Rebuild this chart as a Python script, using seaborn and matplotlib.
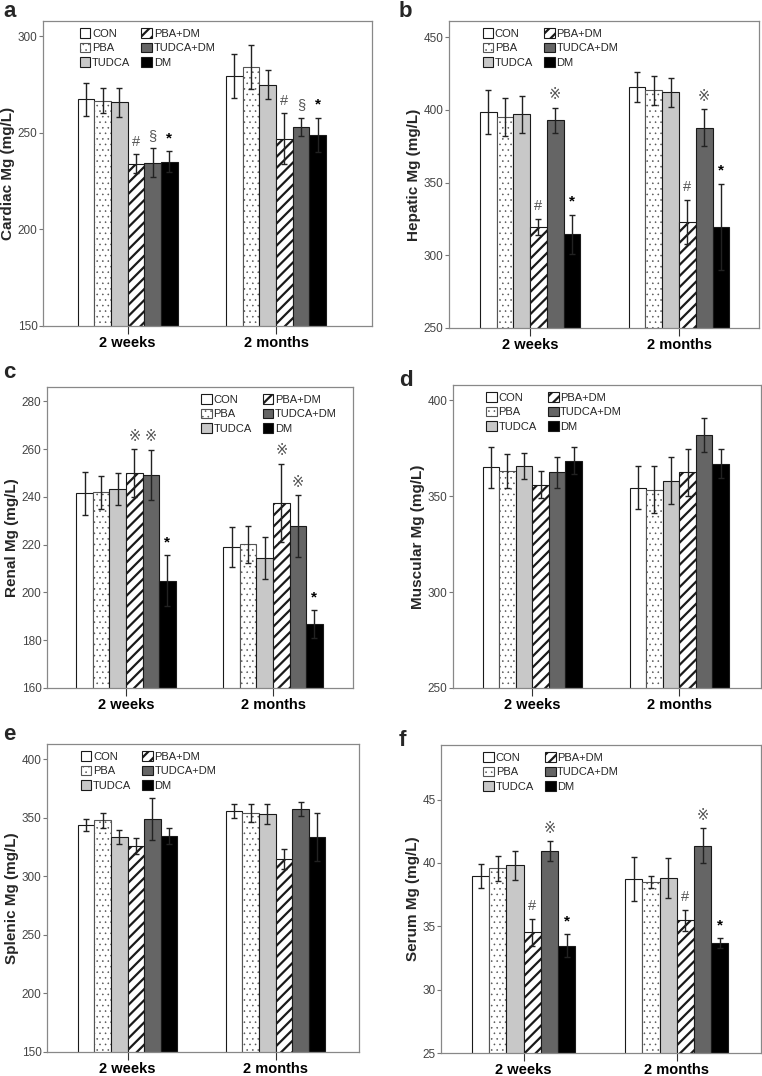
import numpy as np
import pandas as pd
import matplotlib
matplotlib.use('Agg')
import matplotlib.pyplot as plt
import seaborn as sns

groups = ['CON', 'PBA', 'TUDCA', 'PBA+DM', 'TUDCA+DM', 'DM']
periods = ['2 weeks', '2 months']

# mean and SEM per panel: first 6 values = 2 weeks, last 6 = 2 months (groups order)
cardiac_mean = [267.5, 266.8, 265.8, 234.0, 234.5, 235.2, 279.4, 284.2, 275.0, 247.0, 253.3, 249.0]
cardiac_err = [8.5, 6.3, 7.5, 5.0, 7.5, 5.6, 11.4, 11.4, 7.5, 13.3, 4.7, 9.0]
hepatic_mean = [398.5, 395.0, 396.8, 319.4, 392.7, 314.5, 415.6, 413.3, 412.0, 323.0, 387.7, 319.5]
hepatic_err = [15.0, 13.0, 12.5, 5.7, 8.6, 13.5, 10.3, 10.0, 10.0, 15.0, 12.5, 29.8]
renal_mean = [241.5, 241.9, 243.3, 250.0, 249.3, 204.9, 219.0, 220.2, 214.4, 237.5, 227.7, 186.8]
renal_err = [9.0, 7.0, 6.8, 10.0, 10.5, 10.6, 8.2, 7.7, 8.8, 16.3, 13.0, 5.8]
muscular_mean = [365.0, 363.1, 366.0, 356.1, 362.4, 368.6, 354.4, 353.5, 358.0, 362.4, 382.1, 367.0]
muscular_err = [10.5, 9.0, 6.8, 7.2, 8.2, 7.1, 11.3, 12.2, 12.2, 12.1, 8.9, 7.4]
splenic_mean = [344.1, 347.8, 333.3, 325.9, 349.3, 334.4, 355.8, 354.1, 353.0, 314.8, 357.2, 333.6]
splenic_err = [5.0, 6.3, 6.0, 7.0, 18.0, 6.7, 6.2, 7.4, 8.4, 8.8, 6.0, 20.8]
serum_mean = [38.96, 39.56, 39.82, 34.51, 40.93, 33.48, 38.75, 38.51, 38.80, 35.46, 41.35, 33.67]
serum_err = [0.95, 1.0, 1.15, 1.1, 0.77, 0.93, 1.75, 0.46, 1.6, 0.85, 1.37, 0.37]

# significance marks: (period, group, mark)
cardiac_marks = [('2 weeks', 'PBA+DM', '#'), ('2 weeks', 'TUDCA+DM', '§'), ('2 weeks', 'DM', '*'),
                 ('2 months', 'PBA+DM', '#'), ('2 months', 'TUDCA+DM', '§'), ('2 months', 'DM', '*')]
hepatic_marks = [('2 weeks', 'PBA+DM', '#'), ('2 weeks', 'TUDCA+DM', '※'), ('2 weeks', 'DM', '*'),
                 ('2 months', 'PBA+DM', '#'), ('2 months', 'TUDCA+DM', '※'), ('2 months', 'DM', '*')]
renal_marks = [('2 weeks', 'PBA+DM', '※'), ('2 weeks', 'TUDCA+DM', '※'), ('2 weeks', 'DM', '*'),
               ('2 months', 'PBA+DM', '※'), ('2 months', 'TUDCA+DM', '※'), ('2 months', 'DM', '*')]
serum_marks = [('2 weeks', 'PBA+DM', '#'), ('2 weeks', 'TUDCA+DM', '※'), ('2 weeks', 'DM', '*'),
               ('2 months', 'PBA+DM', '#'), ('2 months', 'TUDCA+DM', '※'), ('2 months', 'DM', '*')]

palette = {'CON': 'white', 'PBA': 'white', 'TUDCA': '#c8c8c8',
           'PBA+DM': 'white', 'TUDCA+DM': '#656565', 'DM': 'black'}
hatches = {'CON': '', 'PBA': '...', 'TUDCA': '', 'PBA+DM': '///', 'TUDCA+DM': '', 'DM': ''}

sns.set_style('white')
plt.rcParams['font.family'] = ['Liberation Sans', 'DejaVu Sans']
plt.rcParams['hatch.linewidth'] = 1.6

W, H = 762, 1076
fig = plt.figure(figsize=(W / 100, H / 100), dpi=100)


def add_axes_px(x0, y0, x1, y1):
    return fig.add_axes([x0 / W, 1 - y1 / H, (x1 - x0) / W, (y1 - y0) / H])


def style_pba(p):
    # light, fine dots for the PBA pattern
    if hasattr(p, 'set_hatch_linewidth'):
        p.set_hatch_linewidth(0.4)
        p.set_edgecolor('#555555')
    else:
        p.set_edgecolor('#999999')


def draw_panel(ax, ylabel, means, errs, ylim, yticks, xlim, leg_x, marks):
    df = pd.DataFrame({'period': np.repeat(periods, len(groups)),
                       'group': groups * 2, 'value': means, 'err': errs})
    sns.barplot(data=df, x='period', y='value', hue='group', order=periods,
                hue_order=groups, palette=palette, saturation=1, width=0.675,
                gap=0, errorbar=None, edgecolor='#1a1a1a', linewidth=0.8,
                legend=False, ax=ax)
    handles = []
    for g, cont in zip(groups, ax.containers):
        sub = df[df['group'] == g].set_index('period')
        xs, ys, es = [], [], []
        for per, p in zip(periods, cont.patches):
            p.set_hatch(hatches[g])
            if g == 'PBA':
                style_pba(p)
            xs.append(p.get_x() + p.get_width() / 2)
            ys.append(sub.loc[per, 'value'])
            es.append(sub.loc[per, 'err'])
        ax.errorbar(xs, ys, yerr=es, fmt='none', ecolor='#222222',
                    elinewidth=1.0, capsize=2.2, capthick=1.0, zorder=5)
        handles.append(cont.patches[0])
    for per, g, m in marks:
        cont = ax.containers[groups.index(g)]
        p = cont.patches[periods.index(per)]
        row = df[(df['group'] == g) & (df['period'] == per)].iloc[0]
        star = m == '*'
        ax.annotate(m, (p.get_x() + p.get_width() / 2, row['value'] + row['err']),
                    xytext=(0, 4), textcoords='offset points', ha='center',
                    va='bottom', fontsize=11 if star else 10.5,
                    color='black' if star else '#555555',
                    fontweight='bold' if star else 'normal')
    leg = ax.legend(handles=handles, labels=groups, ncol=2, loc='upper left',
                    bbox_to_anchor=(leg_x, 1.0), frameon=False, fontsize=8,
                    handlelength=0.95, handleheight=0.95, handletextpad=0.15,
                    columnspacing=1.0, labelspacing=0.35, borderaxespad=0.55,
                    borderpad=0.1)
    for g, lp in zip(groups, leg.get_patches()):
        if g == 'PBA':
            style_pba(lp)
    ax.set_ylim(*ylim)
    ax.set_yticks(yticks)
    ax.set_xlim(*xlim)
    ax.set_xlabel('')
    ax.set_ylabel(ylabel, fontsize=11, fontweight='bold', labelpad=1.5)
    for s in ax.spines.values():
        s.set_color('#888888')
        s.set_linewidth(0.9)
    ax.tick_params(axis='y', direction='out', length=3, width=0.8,
                   colors='#777777', labelcolor='#444444', labelsize=8.5, pad=1,
                   left=True)
    ax.tick_params(axis='x', direction='out', length=6, width=0.8,
                   colors='#333333', labelcolor='black', labelsize=10.5, pad=1,
                   bottom=True)
    for t in ax.get_xticklabels():
        t.set_fontweight('bold')


panels = [
    ('a', (3, 17), (43, 21, 372, 326), 'Cardiac Mg (mg/L)', cardiac_mean, cardiac_err,
     (150, 308), [150, 200, 250, 300], (-0.571, 1.647), 0.09, cardiac_marks),
    ('b', (399, 17), (449, 21, 759, 328), 'Hepatic Mg (mg/L)', hepatic_mean, hepatic_err,
     (250, 461), [250, 300, 350, 400, 450], (-0.544, 1.537), 0.085, hepatic_marks),
    ('c', (3, 378), (47, 387, 353, 688), 'Renal Mg (mg/L)', renal_mean, renal_err,
     (160, 286), [160, 180, 200, 220, 240, 260, 280], (-0.537, 1.544), 0.48, renal_marks),
    ('d', (399, 386), (453, 385, 761, 688), 'Muscular Mg (mg/L)', muscular_mean, muscular_err,
     (250, 408), [250, 300, 350, 400], (-0.539, 1.556), 0.085, []),
    ('e', (3, 740), (47, 744, 359, 1052), 'Splenic Mg (mg/L)', splenic_mean, splenic_err,
     (150, 413), [150, 200, 250, 300, 350, 400], (-0.544, 1.564), 0.085, []),
    ('f', (399, 746), (441, 745, 761, 1053), 'Serum Mg (mg/L)', serum_mean, serum_err,
     (25, 49.3), [25, 30, 35, 40, 45], (-0.54, 1.55), 0.11, serum_marks),
]

for letter, (lx, ly), rect, ylabel, m, e, ylim, yt, xlim, legx, marks in panels:
    ax = add_axes_px(*rect)
    draw_panel(ax, ylabel, m, e, ylim, yt, xlim, legx, marks)
    fig.text(lx / W, 1 - ly / H, letter, fontsize=16, fontweight='bold',
             ha='left', va='baseline')

fig.savefig('out.png', dpi=100, facecolor='white')
